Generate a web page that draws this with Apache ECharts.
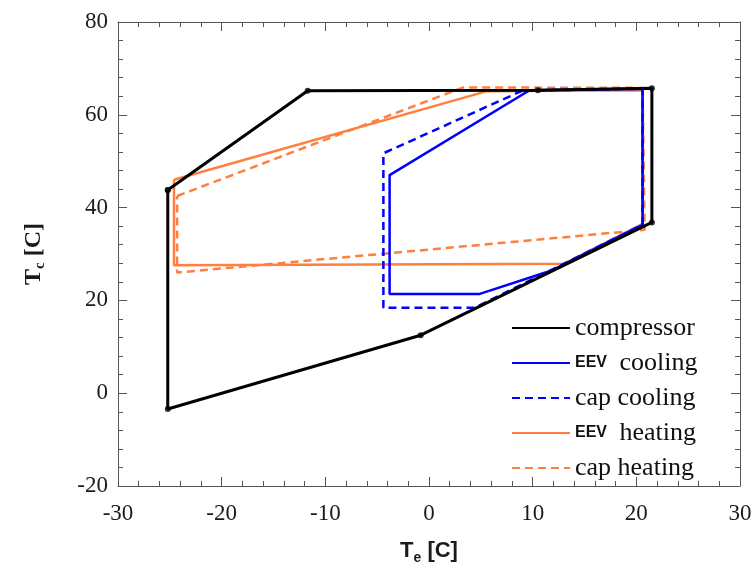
<!DOCTYPE html>
<html>
<head>
<meta charset="utf-8">
<script src="https://cdn.jsdelivr.net/npm/echarts@6/dist/echarts.min.js"></script>
<style>
  html, body { margin: 0; padding: 0; background: #fff; }
  #chart { width: 756px; height: 570px; }
</style>
</head>
<body>
<div id="chart"></div>
<script>
// operating envelope data, Te (evaporating) vs Tc (condensing), deg C
var compressorTe = [-25.2, -11.7, 10.5, 21.5, 21.5, -0.8, -25.2, -25.2]
var compressorTc = [43.8, 65.2, 65.3, 65.7, 36.8, 12.5, -3.4, 43.8]

var eevCoolTe = [9.7, -3.8, -3.8, 4.9, 11.9, 20.6, 20.6, 9.7]
var eevCoolTc = [65.3, 47.0, 21.4, 21.4, 26.5, 36.3, 65.6, 65.3]

var capCoolTe = [9.0, -4.4, -4.4, 4.4, 20.6, 20.6, 9.0]
var capCoolTc = [65.2, 51.7, 18.4, 18.4, 36.3, 65.6, 65.2]

var eevHeatTe = [-24.6, 5.6, 20.6, 20.6, 13.0, -24.6, -24.6]
var eevHeatTc = [46.0, 65.1, 65.3, 36.5, 27.9, 27.6, 46.0]

var capHeatTe = [-24.3, 3.3, 20.6, 20.8, -24.3, -24.3]
var capHeatTc = [42.5, 65.9, 65.8, 35.2, 26.0, 42.5]

var xTicks = [-30, -20, -10, 0, 10, 20, 30]
var yTicks = [-20, 0, 20, 40, 60, 80]

var seriesNames = ['compressor', 'EEV cooling', 'cap cooling', 'EEV heating', 'cap heating']

var blue = '#0000ff'
var orange = '#ff7f3f'

function pairs (xs, ys) {
  var out = []
  for (var i = 0; i < xs.length; i++) {
    out.push([xs[i], ys[i]])
  }
  return out
}

function axisCommon (pos) {
  var isX = pos === 'bottom' || pos === 'top'
  var ticks = isX ? xTicks : yTicks
  return {
    type: 'value',
    position: pos,
    min: ticks[0],
    max: ticks[ticks.length - 1],
    interval: isX ? 10 : 20,
    splitNumber: 5,
    axisLine: { show: true, onZero: false, lineStyle: { color: '#555', width: 1 } },
    axisTick: { show: true, inside: true, length: 9, lineStyle: { color: '#555' } },
    minorTick: { show: true, splitNumber: 5, length: 5, lineStyle: { color: '#555' } },
    splitLine: { show: false },
    axisLabel: { show: false }
  }
}

var chart = echarts.init(document.getElementById('chart'))

var xBottom = axisCommon('bottom')
xBottom.axisLabel = {
  show: true,
  margin: 16,
  color: '#1a1a1a',
  fontFamily: 'Liberation Serif',
  fontSize: 23
}
xBottom.name = '{t|T}{s|e}{t| [C]}'
xBottom.nameLocation = 'middle'
xBottom.nameGap = 51
xBottom.nameTextStyle = {
  rich: {
    t: { fontFamily: 'Liberation Sans', fontWeight: 'bold', fontSize: 22, color: '#1a1a1a', lineHeight: 28 },
    s: { fontFamily: 'Liberation Sans', fontWeight: 'bold', fontSize: 14, color: '#1a1a1a', lineHeight: 14, verticalAlign: 'bottom' }
  }
}

var yLeft = axisCommon('left')
yLeft.axisLabel = {
  show: true,
  margin: 10,
  color: '#1a1a1a',
  fontFamily: 'Liberation Serif',
  fontSize: 23
}
yLeft.name = '{t|T}{s|c}{t| [C]}'
yLeft.nameLocation = 'middle'
yLeft.nameGap = 70
yLeft.nameTextStyle = {
  rich: {
    t: { fontFamily: 'Liberation Serif', fontWeight: 'bold', fontSize: 24, color: '#1a1a1a', lineHeight: 28 },
    s: { fontFamily: 'Liberation Serif', fontWeight: 'bold', fontSize: 15, color: '#1a1a1a', lineHeight: 14, verticalAlign: 'bottom' }
  }
}

var option = {
  animation: false,
  backgroundColor: '#fff',
  grid: { left: 118, right: 16, top: 22, bottom: 80 },
  xAxis: [xBottom, axisCommon('top')],
  yAxis: [yLeft, axisCommon('right')],
  legend: {
    data: seriesNames,
    orient: 'vertical',
    left: 506,
    top: 310,
    itemWidth: 58,
    itemHeight: 14,
    itemGap: 9,
    itemStyle: { opacity: 0 },
    formatter: function (name) {
      if (name.indexOf('EEV') === 0) {
        return '{e|EEV}{n|' + name.slice(3) + '}'
      }
      return '{n|' + name + '}'
    },
    textStyle: {
      rich: {
        n: { fontFamily: 'Liberation Serif', fontSize: 26, color: '#111', lineHeight: 27 },
        e: { fontFamily: 'Liberation Sans', fontWeight: 'bold', fontSize: 16, color: '#111', lineHeight: 27, padding: [0, 6, 0, 0] }
      }
    }
  },
  series: [
    {
      name: 'EEV heating',
      type: 'line',
      data: pairs(eevHeatTe, eevHeatTc),
      symbol: 'none',
      color: orange,
      lineStyle: { color: orange, width: 2.5 },
      z: 2
    },
    {
      name: 'cap heating',
      type: 'line',
      data: pairs(capHeatTe, capHeatTc),
      symbol: 'none',
      color: orange,
      lineStyle: { color: orange, width: 2.5, type: [8, 5] },
      z: 2
    },
    {
      name: 'EEV cooling',
      type: 'line',
      data: pairs(eevCoolTe, eevCoolTc),
      symbol: 'none',
      color: blue,
      lineStyle: { color: blue, width: 2.5 },
      z: 3
    },
    {
      name: 'cap cooling',
      type: 'line',
      data: pairs(capCoolTe, capCoolTc),
      symbol: 'none',
      color: blue,
      lineStyle: { color: blue, width: 2.5, type: [8, 5] },
      z: 3
    },
    {
      name: 'compressor',
      type: 'line',
      data: pairs(compressorTe, compressorTc),
      symbol: 'none',
      color: '#000',
      lineStyle: { color: '#000', width: 3 },
      z: 4
    },
    {
      name: 'compressor points',
      type: 'scatter',
      data: pairs(compressorTe, compressorTc),
      symbol: 'circle',
      symbolSize: 6,
      itemStyle: { color: '#000' },
      z: 5
    }
  ]
}

chart.setOption(option)
</script>
</body>
</html>
